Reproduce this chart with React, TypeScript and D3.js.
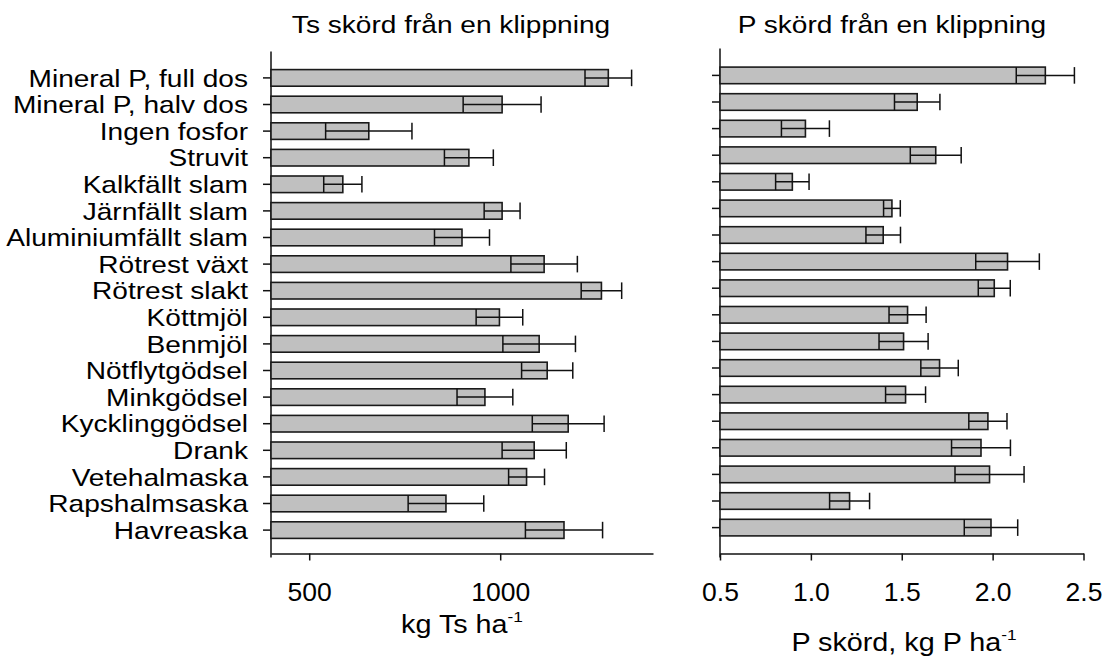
import * as d3 from 'd3'
import { useEffect, useRef } from 'react'

// behandlingar, uppifrån och ned
const categories = [
    'Mineral P, full dos',
    'Mineral P, halv dos',
    'Ingen fosfor',
    'Struvit',
    'Kalkfällt slam',
    'Järnfällt slam',
    'Aluminiumfällt slam',
    'Rötrest växt',
    'Rötrest slakt',
    'Köttmjöl',
    'Benmjöl',
    'Nötflytgödsel',
    'Minkgödsel',
    'Kycklinggödsel',
    'Drank',
    'Vetehalmaska',
    'Rapshalmsaska',
    'Havreaska',
]

// Ts skörd, kg Ts/ha (medel och medelfel)
const tsMean = [1283, 1005, 656, 918, 588, 1005, 900, 1115, 1265, 998, 1102, 1123, 960, 1178, 1089, 1069, 858, 1167]
const tsSe = [61, 102, 113, 64, 50, 47, 72, 87, 53, 61, 95, 67, 73, 94, 84, 47, 99, 101]

// P skörd, kg P/ha (medel och medelfel)
const pMean = [2.29, 1.585, 0.97, 1.687, 0.898, 1.446, 1.398, 2.082, 2.009, 1.532, 1.51, 1.708, 1.521, 1.974, 1.936, 1.983, 1.213, 1.991]
const pSe = [0.16, 0.125, 0.132, 0.14, 0.092, 0.046, 0.095, 0.175, 0.088, 0.102, 0.135, 0.103, 0.11, 0.105, 0.162, 0.19, 0.11, 0.147]

const tsTicks = [500, 1000]
const pTicks = [0.5, 1.0, 1.5, 2.0, 2.5]

const FONT = '"Liberation Sans", Arial, Helvetica, sans-serif'
// originalet är något utdraget på bredden
const SX = 1.17

type Panel = {
    means: number[]
    ses: number[]
    domain: [number, number]
    xRange: [number, number]
    bandRange: [number, number]
    axisTop: number
    axisY: number
    ticks: number[]
    fmt: (d: number) => string
    labels: boolean
    title: string
    titleX: number
    unit: string
    unitX: number
    unitY: number
}

function drawPanel(svg: d3.Selection<SVGSVGElement, unknown, null, undefined>, p: Panel) {
    const x = d3.scaleLinear().domain(p.domain).range(p.xRange)
    const y = d3
        .scaleBand<string>()
        .domain(categories)
        .range(p.bandRange)
        .paddingInner(0.376)
        .paddingOuter(0.436)

    const g = svg.append('g')
    const x0 = p.xRange[0]

    // y-axel
    const axisL = d3
        .axisLeft(y)
        .tickSize(8)
        .tickSizeOuter(0)
        .tickPadding(15)
        .tickFormat((d) => (p.labels ? d : ''))
    const gy = g.append('g').attr('transform', `translate(${x0},0)`).call(axisL)
    gy.select('.domain').attr('d', `M0,${p.axisTop}V${p.axisY + 4}`)
    gy.selectAll('line').attr('stroke', '#111').attr('stroke-width', 1.5)
    gy.select('.domain').attr('stroke', '#111').attr('stroke-width', 1.5)
    gy.selectAll('.tick text')
        .attr('font-family', FONT)
        .attr('font-size', 24)
        .attr('fill', '#000')
        .attr('x', 0)
        .attr('dy', '0.36em')
        .attr('transform', `translate(-23,0) scale(${SX},1)`)

    // x-axel
    const axisB = d3
        .axisBottom(x)
        .tickValues(p.ticks)
        .tickSize(7)
        .tickSizeOuter(0)
        .tickFormat((d) => p.fmt(d as number))
    const gx = g.append('g').attr('transform', `translate(0,${p.axisY})`).call(axisB)
    gx.select('.domain').attr('stroke', '#111').attr('stroke-width', 1.5)
    gx.selectAll('line').attr('stroke', '#111').attr('stroke-width', 1.5)
    gx.selectAll('.tick text')
        .attr('font-family', FONT)
        .attr('font-size', 26.5)
        .attr('fill', '#000')
        .attr('y', 47)
        .attr('dy', 0)

    // staplar
    const rows = categories.map((c, i) => ({ c, m: p.means[i], s: p.ses[i] }))
    const bw = y.bandwidth()

    g.append('g')
        .selectAll('rect')
        .data(rows)
        .enter()
        .append('rect')
        .attr('x', x0)
        .attr('y', (d) => y(d.c)!)
        .attr('width', (d) => x(d.m) - x0)
        .attr('height', bw)
        .attr('fill', '#c0c0c0')
        .attr('stroke', '#1a1a1a')
        .attr('stroke-width', 1.6)

    // felstaplar
    const err = g.append('g').attr('stroke', '#111').attr('stroke-width', 1.5)
    rows.forEach((d) => {
        const yc = y(d.c)! + bw / 2
        const lo = x(d.m - d.s)
        const hi = x(d.m + d.s)
        err.append('line').attr('x1', lo).attr('x2', hi).attr('y1', yc).attr('y2', yc)
        err.append('line').attr('x1', lo).attr('x2', lo).attr('y1', y(d.c)!).attr('y2', y(d.c)! + bw)
        err.append('line').attr('x1', hi).attr('x2', hi).attr('y1', y(d.c)!).attr('y2', y(d.c)! + bw)
    })

    // rubrik
    svg.append('text')
        .attr('transform', `translate(${p.titleX},33) scale(${SX},1)`)
        .attr('text-anchor', 'middle')
        .attr('font-family', FONT)
        .attr('font-size', 24)
        .text(p.title)

    // axeltitel med upphöjt -1
    const t = svg
        .append('text')
        .attr('transform', `translate(${p.unitX},${p.unitY}) scale(1.15,1)`)
        .attr('text-anchor', 'middle')
        .attr('font-family', FONT)
        .attr('font-size', 25)
    t.append('tspan').text(p.unit)
    t.append('tspan').attr('font-size', 15).attr('dy', -11).text('-1')
}

export default function App() {
    const ref = useRef<SVGSVGElement>(null)

    useEffect(() => {
        const svg = d3.select(ref.current!)
        svg.selectAll('*').remove()

        drawPanel(svg, {
            means: tsMean,
            ses: tsSe,
            domain: [400, 1400],
            xRange: [271, 653],
            bandRange: [58, 550],
            axisTop: 51.5,
            axisY: 553.5,
            ticks: tsTicks,
            fmt: (d) => String(d),
            labels: true,
            title: 'Ts skörd från en klippning',
            titleX: 451,
            unit: 'kg Ts ha',
            unitX: 462,
            unitY: 633,
        })

        drawPanel(svg, {
            means: pMean,
            ses: pSe,
            domain: [0.5, 2.5],
            xRange: [720, 1083.5],
            bandRange: [55.5, 547.5],
            axisTop: 48.5,
            axisY: 553.5,
            ticks: pTicks,
            fmt: d3.format('.1f'),
            labels: false,
            title: 'P skörd från en klippning',
            titleX: 892,
            unit: 'P skörd, kg P ha',
            unitX: 904,
            unitY: 651,
        })
    }, [])

    return (
        <svg
            ref={ref}
            width={1108}
            height={658}
            style={{ position: 'absolute', left: 0, top: 0, background: '#fff' }}
        />
    )
}
